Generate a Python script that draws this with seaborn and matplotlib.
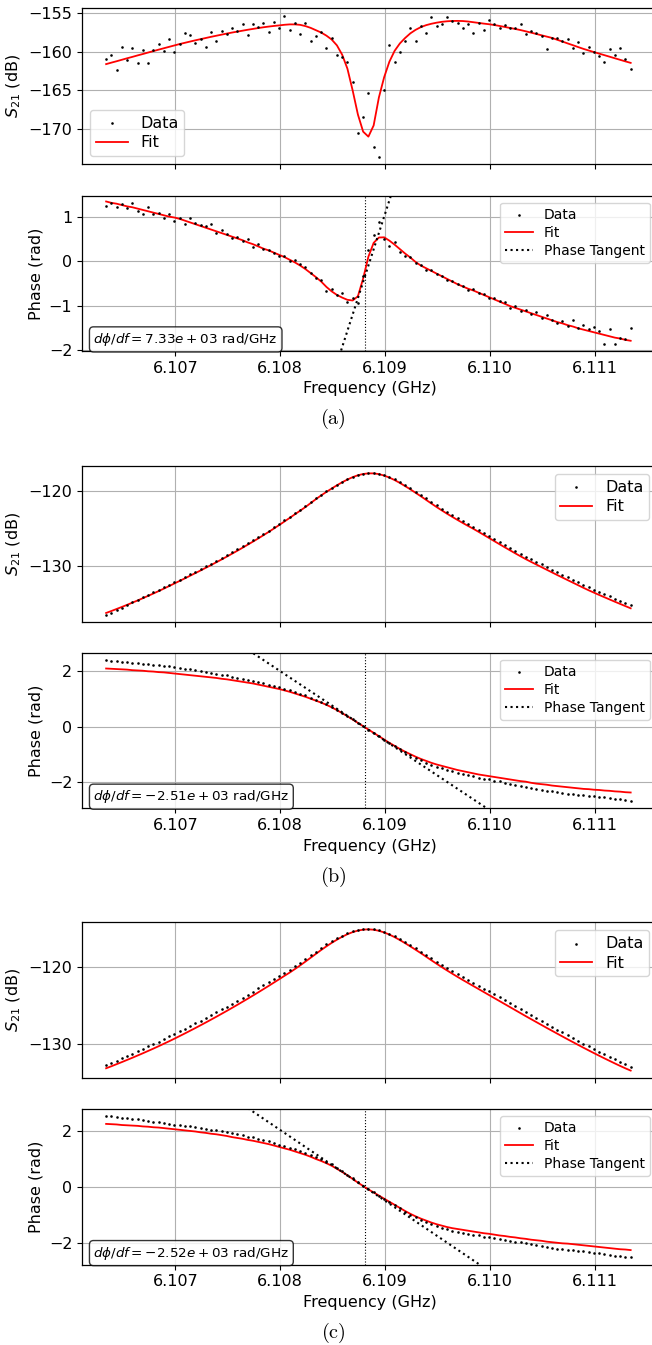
import numpy as np
import matplotlib
matplotlib.use("Agg")
import matplotlib.pyplot as plt
import seaborn as sns
from matplotlib.ticker import FixedLocator, FormatStrFormatter

# ---------------- data ----------------
FREQ_START = 6.10634   # GHz
FREQ_STOP = 6.11134    # GHz
N_POINTS = 101
F0 = 6.10881           # resonance marker (GHz)
freq = np.linspace(FREQ_START, FREQ_STOP, N_POINTS)

X_TICKS = [6.107, 6.108, 6.109, 6.110, 6.111]

# ---- (a) ----
A_S21_DATA = [-161.0, -160.5, -162.4, -159.4, -161.1, -159.5, -161.5, -159.8, -161.5, -159.8,
              -159.0, -159.9, -158.4, -160.1, -159.0, -157.6, -157.9, -158.9, -158.4, -159.4,
              -157.5, -158.7, -157.4, -157.7, -157.0, -157.3, -156.5, -157.9, -156.5, -156.8,
              -156.3, -157.5, -156.2, -156.9, -155.4, -157.2, -156.3, -157.8, -156.3, -158.6,
              -158.0, -157.5, -159.5, -158.2, -160.4, -160.7, -161.4, -163.9, -170.5, -168.4,
              -165.3, -172.3, -173.5, -164.9, -159.1, -161.3, -160.0, -158.6, -157.0, -158.6,
              -156.7, -157.6, -155.6, -156.7, -156.4, -155.6, -156.0, -156.3, -156.9, -156.5,
              -157.6, -156.3, -157.2, -155.9, -156.5, -157.0, -156.6, -156.9, -157.0, -156.5,
              -157.7, -157.3, -157.6, -158.0, -159.7, -158.3, -158.2, -158.7, -158.4, -159.6,
              -158.8, -160.2, -159.4, -160.0, -160.6, -161.4, -159.7, -160.5, -159.6, -160.9,
              -162.3]
A_S21_FIT = [-161.61, -161.42, -161.24, -161.05, -160.86, -160.68, -160.49, -160.31, -160.12, -159.94,
             -159.75, -159.57, -159.39, -159.21, -159.03, -158.87, -158.71, -158.55, -158.40, -158.25,
             -158.10, -157.96, -157.82, -157.68, -157.55, -157.43, -157.31, -157.19, -157.08, -156.97,
             -156.87, -156.78, -156.70, -156.63, -156.55, -156.50, -156.50, -156.56, -156.72, -156.95,
             -157.25, -157.55, -157.95, -158.45, -159.20, -160.40, -162.20, -165.00, -168.10, -170.30,
             -170.94, -169.50, -165.90, -163.30, -161.30, -159.90, -158.95, -158.25, -157.65, -157.20,
             -156.85, -156.60, -156.42, -156.28, -156.17, -156.10, -156.06, -156.05, -156.07, -156.13,
             -156.22, -156.31, -156.40, -156.48, -156.58, -156.70, -156.83, -156.96, -157.09, -157.23,
             -157.39, -157.56, -157.73, -157.90, -158.07, -158.24, -158.48, -158.71, -158.95, -159.18,
             -159.42, -159.65, -159.86, -160.06, -160.26, -160.46, -160.66, -160.86, -161.06, -161.26,
             -161.45]
A_PHASE_DATA = [1.24, 1.30, 1.22, 1.28, 1.19, 1.30, 1.13, 1.05, 1.21, 1.06,
                1.09, 0.97, 1.06, 0.90, 0.96, 0.83, 0.98, 0.86, 0.82, 0.79,
                0.84, 0.64, 0.69, 0.62, 0.51, 0.55, 0.45, 0.49, 0.32, 0.38,
                0.28, 0.24, 0.19, 0.12, 0.11, 0.01, 0.02, -0.07, -0.13, -0.26,
                -0.38, -0.42, -0.67, -0.62, -0.77, -0.72, -0.91, -0.84, -0.95, -0.33,
                0.25, 0.58, 0.88, 0.49, 0.33, 0.44, 0.20, 0.12, 0.10, -0.04,
                -0.08, -0.19, -0.20, -0.30, -0.33, -0.43, -0.45, -0.51, -0.55, -0.65,
                -0.63, -0.72, -0.74, -0.84, -0.83, -0.89, -0.93, -1.06, -1.01, -1.12,
                -1.10, -1.19, -1.15, -1.27, -1.20, -1.32, -1.38, -1.35, -1.46, -1.33,
                -1.50, -1.44, -1.52, -1.47, -1.58, -1.86, -1.52, -1.87, -1.72, -1.76,
                -1.50]
A_PHASE_FIT = [1.34, 1.31, 1.29, 1.26, 1.23, 1.21, 1.18, 1.15, 1.12, 1.09,
               1.06, 1.03, 1.00, 0.98, 0.95, 0.91, 0.87, 0.83, 0.79, 0.75,
               0.71, 0.67, 0.63, 0.59, 0.55, 0.51, 0.47, 0.42, 0.38, 0.33,
               0.28, 0.24, 0.19, 0.14, 0.09, 0.03, -0.03, -0.10, -0.18, -0.27,
               -0.36, -0.46, -0.58, -0.68, -0.76, -0.82, -0.87, -0.885, -0.79, -0.39,
               0.10, 0.41, 0.53, 0.535, 0.46, 0.37, 0.27, 0.17, 0.08, -0.02,
               -0.10, -0.16, -0.22, -0.28, -0.34, -0.40, -0.46, -0.52, -0.57, -0.62,
               -0.66, -0.71, -0.76, -0.81, -0.86, -0.91, -0.96, -1.01, -1.05, -1.09,
               -1.13, -1.17, -1.21, -1.25, -1.29, -1.33, -1.37, -1.40, -1.44, -1.47,
               -1.51, -1.54, -1.57, -1.60, -1.63, -1.66, -1.69, -1.72, -1.74, -1.77,
               -1.79]
A_SLOPE = 7.33e3      # rad/GHz
A_PHI0 = -0.32

# ---- (b) ----
B_S21_DATA = [-136.50, -136.24, -135.85, -135.50, -135.14, -134.78, -134.46, -134.12, -133.78, -133.47,
              -133.14, -132.80, -132.47, -132.12, -131.79, -131.44, -131.08, -130.74, -130.38, -130.02,
              -129.66, -129.28, -128.92, -128.53, -128.14, -127.76, -127.35, -126.95, -126.54, -126.12,
              -125.70, -125.25, -124.81, -124.35, -123.88, -123.41, -122.94, -122.46, -121.99, -121.46,
              -120.95, -120.48, -120.03, -119.59, -119.17, -118.78, -118.43, -118.12, -117.88, -117.71,
              -117.63, -117.63, -117.72, -117.90, -118.15, -118.45, -118.81, -119.22, -119.64, -120.08,
              -120.53, -120.99, -121.45, -121.91, -122.34, -122.77, -123.18, -123.58, -123.97, -124.37,
              -124.74, -125.13, -125.52, -125.92, -126.33, -126.74, -127.15, -127.55, -127.94, -128.33,
              -128.71, -129.07, -129.41, -129.76, -130.10, -130.44, -130.79, -131.13, -131.46, -131.79,
              -132.13, -132.46, -132.79, -133.10, -133.41, -133.70, -133.99, -134.29, -134.58, -134.86,
              -135.14]
B_S21_FIT = [-136.20, -135.94, -135.67, -135.40, -135.12, -134.83, -134.54, -134.24, -133.93, -133.62,
             -133.30, -132.97, -132.63, -132.29, -131.95, -131.61, -131.26, -130.91, -130.56, -130.20,
             -129.84, -129.47, -129.10, -128.72, -128.33, -127.94, -127.54, -127.13, -126.72, -126.30,
             -125.87, -125.43, -124.98, -124.52, -124.05, -123.57, -123.09, -122.61, -122.13, -121.60,
             -121.08, -120.58, -120.12, -119.67, -119.24, -118.84, -118.48, -118.16, -117.91, -117.74,
             -117.66, -117.66, -117.76, -117.95, -118.22, -118.55, -118.93, -119.35, -119.78, -120.24,
             -120.70, -121.18, -121.66, -122.13, -122.58, -123.02, -123.44, -123.85, -124.25, -124.64,
             -125.02, -125.42, -125.83, -126.24, -126.66, -127.07, -127.48, -127.88, -128.28, -128.67,
             -129.05, -129.41, -129.76, -130.11, -130.46, -130.81, -131.16, -131.50, -131.84, -132.18,
             -132.52, -132.86, -133.19, -133.50, -133.81, -134.11, -134.41, -134.71, -135.00, -135.29,
             -135.58]
B_PHASE_DATA = [2.40, 2.38, 2.37, 2.35, 2.34, 2.31, 2.30, 2.28, 2.26, 2.24,
                2.22, 2.20, 2.18, 2.16, 2.13, 2.10, 2.07, 2.04, 2.01, 1.98,
                1.95, 1.92, 1.88, 1.85, 1.81, 1.77, 1.73, 1.69, 1.65, 1.61,
                1.56, 1.52, 1.48, 1.43, 1.37, 1.32, 1.26, 1.19, 1.13, 1.05,
                0.98, 0.90, 0.82, 0.72, 0.62, 0.50, 0.39, 0.27, 0.14, 0.02,
                -0.10, -0.22, -0.34, -0.46, -0.58, -0.70, -0.82, -0.92, -1.02, -1.12,
                -1.21, -1.29, -1.37, -1.44, -1.50, -1.55, -1.61, -1.66, -1.71, -1.75,
                -1.79, -1.83, -1.87, -1.90, -1.94, -1.97, -2.01, -2.05, -2.09, -2.13,
                -2.16, -2.20, -2.24, -2.27, -2.30, -2.33, -2.36, -2.38, -2.41, -2.43,
                -2.45, -2.47, -2.49, -2.51, -2.53, -2.55, -2.57, -2.60, -2.62, -2.65,
                -2.67]
B_PHASE_FIT = [2.10, 2.09, 2.08, 2.07, 2.06, 2.04, 2.03, 2.02, 2.00, 1.99,
               1.97, 1.96, 1.94, 1.92, 1.90, 1.88, 1.86, 1.84, 1.82, 1.80,
               1.78, 1.76, 1.73, 1.71, 1.68, 1.65, 1.62, 1.59, 1.56, 1.52,
               1.48, 1.44, 1.40, 1.36, 1.31, 1.26, 1.20, 1.14, 1.08, 1.01,
               0.94, 0.87, 0.79, 0.70, 0.60, 0.49, 0.38, 0.26, 0.14, 0.02,
               -0.10, -0.22, -0.34, -0.46, -0.58, -0.69, -0.80, -0.90, -0.99, -1.08,
               -1.16, -1.23, -1.30, -1.36, -1.41, -1.46, -1.51, -1.56, -1.60, -1.64,
               -1.68, -1.72, -1.75, -1.78, -1.81, -1.84, -1.87, -1.90, -1.93, -1.96,
               -1.98, -2.02, -2.05, -2.07, -2.09, -2.12, -2.14, -2.16, -2.18, -2.20,
               -2.22, -2.24, -2.25, -2.27, -2.28, -2.30, -2.31, -2.33, -2.34, -2.36,
               -2.37]
B_SLOPE = -2.51e3
B_PHI0 = -0.03

# ---- (c) ----
C_S21_DATA = [-132.68, -132.39, -132.10, -131.81, -131.51, -131.21, -130.90, -130.59, -130.27, -129.96,
              -129.64, -129.31, -128.98, -128.64, -128.30, -127.96, -127.62, -127.28, -126.93, -126.58,
              -126.22, -125.86, -125.49, -125.12, -124.74, -124.36, -123.97, -123.58, -123.18, -122.78,
              -122.37, -121.97, -121.56, -121.15, -120.73, -120.33, -119.89, -119.44, -118.97, -118.49,
              -118.01, -117.53, -117.09, -116.67, -116.29, -115.94, -115.64, -115.40, -115.22, -115.12,
              -115.09, -115.14, -115.27, -115.47, -115.73, -116.04, -116.40, -116.78, -117.18, -117.59,
              -118.01, -118.45, -118.89, -119.32, -119.74, -120.15, -120.55, -120.94, -121.32, -121.69,
              -122.06, -122.43, -122.80, -123.17, -123.55, -123.93, -124.31, -124.69, -125.07, -125.45,
              -125.84, -126.22, -126.60, -126.98, -127.36, -127.73, -128.10, -128.47, -128.84, -129.20,
              -129.56, -129.92, -130.27, -130.62, -130.96, -131.30, -131.63, -131.96, -132.28, -132.59,
              -132.88]
C_S21_FIT = [-133.10, -132.84, -132.57, -132.30, -132.02, -131.74, -131.45, -131.16, -130.86, -130.56,
             -130.25, -129.93, -129.61, -129.28, -128.94, -128.60, -128.25, -127.90, -127.54, -127.18,
             -126.81, -126.44, -126.06, -125.68, -125.29, -124.90, -124.50, -124.10, -123.69, -123.28,
             -122.86, -122.44, -122.01, -121.58, -121.14, -120.72, -120.26, -119.79, -119.30, -118.80,
             -118.30, -117.80, -117.33, -116.88, -116.47, -116.09, -115.76, -115.49, -115.29, -115.17,
             -115.13, -115.18, -115.32, -115.53, -115.81, -116.14, -116.52, -116.92, -117.34, -117.77,
             -118.21, -118.67, -119.13, -119.58, -120.02, -120.45, -120.87, -121.28, -121.68, -122.07,
             -122.46, -122.85, -123.24, -123.63, -124.02, -124.41, -124.80, -125.19, -125.58, -125.97,
             -126.36, -126.74, -127.12, -127.50, -127.88, -128.25, -128.62, -128.99, -129.36, -129.72,
             -130.08, -130.44, -130.79, -131.14, -131.48, -131.82, -132.15, -132.48, -132.80, -133.11,
             -133.40]
C_PHASE_DATA = [2.54, 2.52, 2.50, 2.47, 2.45, 2.43, 2.41, 2.38, 2.36, 2.33,
                2.31, 2.28, 2.25, 2.22, 2.20, 2.18, 2.16, 2.14, 2.11, 2.08,
                2.05, 2.03, 2.00, 1.97, 1.92, 1.89, 1.85, 1.80, 1.77, 1.72,
                1.67, 1.63, 1.57, 1.51, 1.46, 1.41, 1.34, 1.28, 1.21, 1.14,
                1.06, 0.99, 0.90, 0.81, 0.69, 0.57, 0.44, 0.31, 0.17, 0.05,
                -0.08, -0.19, -0.30, -0.42, -0.53, -0.65, -0.76, -0.87, -0.98, -1.08,
                -1.16, -1.24, -1.32, -1.39, -1.45, -1.50, -1.55, -1.59, -1.62, -1.66,
                -1.69, -1.72, -1.76, -1.78, -1.82, -1.85, -1.88, -1.91, -1.94, -1.97,
                -2.00, -2.04, -2.07, -2.10, -2.14, -2.16, -2.19, -2.21, -2.23, -2.25,
                -2.27, -2.29, -2.31, -2.33, -2.36, -2.38, -2.41, -2.44, -2.46, -2.48,
                -2.50]
C_PHASE_FIT = [2.25, 2.24, 2.23, 2.21, 2.20, 2.19, 2.18, 2.16, 2.15, 2.13,
               2.12, 2.10, 2.08, 2.06, 2.04, 2.02, 2.00, 1.98, 1.95, 1.93,
               1.90, 1.88, 1.85, 1.82, 1.78, 1.75, 1.72, 1.68, 1.65, 1.61,
               1.57, 1.53, 1.48, 1.43, 1.38, 1.33, 1.27, 1.21, 1.15, 1.08,
               1.00, 0.93, 0.85, 0.76, 0.65, 0.54, 0.42, 0.29, 0.16, 0.04,
               -0.08, -0.19, -0.30, -0.41, -0.52, -0.63, -0.74, -0.85, -0.95, -1.04,
               -1.12, -1.19, -1.26, -1.32, -1.37, -1.42, -1.46, -1.49, -1.52, -1.55,
               -1.58, -1.61, -1.64, -1.66, -1.69, -1.72, -1.74, -1.77, -1.79, -1.82,
               -1.84, -1.87, -1.89, -1.91, -1.94, -1.96, -1.98, -2.00, -2.01, -2.03,
               -2.05, -2.07, -2.09, -2.11, -2.13, -2.15, -2.17, -2.19, -2.21, -2.22,
               -2.24]
C_SLOPE = -2.52e3
C_PHI0 = -0.01

# axis ranges / ticks
S21_YLIMS = [(-174.46, -154.43), (-137.36, -116.68), (-134.32, -114.22)]
S21_YTICKS = [[-170, -165, -160, -155], [-130, -120], [-130, -120]]
PH_YLIMS = [(-2.02, 1.47), (-2.94, 2.67), (-2.76, 2.78)]
PH_YTICKS = [[-2, -1, 0, 1], [-2, 0, 2], [-2, 0, 2]]
S21_LEGEND_LOC = ["lower left", "upper right", "upper right"]
CAPTIONS = ["(a)", "(b)", "(c)"]

# ---------------- layout (pixels of a 652x1345 canvas) ----------------
W, H = 652, 1345
AX_LEFT, AX_WIDTH = 82, 574.9
S21_EDGES = [(8.3, 164.0), (466.0, 621.7), (922.3, 1077.7)]
PH_EDGES = [(195.7, 351.0), (652.7, 808.3), (1109.0, 1264.7)]
CAPTION_Y = [419, 877, 1333]
XLIM = (6.10611, 6.11159)

plt.rcParams["font.family"] = ["DejaVu Sans"]
plt.rcParams["axes.linewidth"] = 0.9

fig = plt.figure(figsize=(W / 100, H / 100), dpi=100)

def px_axes(top, bottom):
    return fig.add_axes([AX_LEFT / W, 1 - bottom / H, AX_WIDTH / W, (bottom - top) / H])

panels = [
    (A_S21_DATA, A_S21_FIT, A_PHASE_DATA, A_PHASE_FIT, A_SLOPE, A_PHI0),
    (B_S21_DATA, B_S21_FIT, B_PHASE_DATA, B_PHASE_FIT, B_SLOPE, B_PHI0),
    (C_S21_DATA, C_S21_FIT, C_PHASE_DATA, C_PHASE_FIT, C_SLOPE, C_PHI0),
]

FS = 11.5
for k, (s_dat, s_fit, p_dat, p_fit, slope, phi0) in enumerate(panels):
    # ---- magnitude ----
    ax = px_axes(*S21_EDGES[k])
    sns.scatterplot(x=freq, y=np.array(s_dat), ax=ax, color="k", marker=".", s=14,
                    linewidth=0, label="Data", zorder=3)
    sns.lineplot(x=freq, y=np.array(s_fit), ax=ax, color="red", linewidth=1.3,
                 label="Fit", zorder=2)
    ax.set_xlim(*XLIM)
    ax.set_ylim(*S21_YLIMS[k])
    ax.xaxis.set_major_locator(FixedLocator(X_TICKS))
    ax.set_yticks(S21_YTICKS[k])
    ax.tick_params(labelsize=FS, labelbottom=False)
    ax.grid(True, color="#b0b0b0", linewidth=0.8)
    ax.set_axisbelow(True)
    ax.set_xlabel("")
    ax.set_ylabel(r"$S_{21}$ (dB)", fontsize=FS)
    ax.legend(loc=S21_LEGEND_LOC[k], fontsize=FS, labelspacing=0.3, borderpad=0.35)

    # ---- phase ----
    ax2 = px_axes(*PH_EDGES[k])
    tangent = phi0 + slope * (freq - F0)
    sns.scatterplot(x=freq, y=np.array(p_dat), ax=ax2, color="k", marker=".", s=14,
                    linewidth=0, label="Data", zorder=3)
    sns.lineplot(x=freq, y=np.array(p_fit), ax=ax2, color="red", linewidth=1.3,
                 label="Fit", zorder=2)
    sns.lineplot(x=freq, y=tangent, ax=ax2, color="k", linestyle=":", linewidth=1.5,
                 label="Phase Tangent", zorder=2)
    ax2.axvline(F0, color="k", linestyle=":", linewidth=0.8, zorder=1)
    ax2.set_xlim(*XLIM)
    ax2.set_ylim(*PH_YLIMS[k])
    ax2.xaxis.set_major_locator(FixedLocator(X_TICKS))
    ax2.xaxis.set_major_formatter(FormatStrFormatter("%.3f"))
    ax2.set_yticks(PH_YTICKS[k])
    ax2.tick_params(labelsize=FS)
    ax2.grid(True, color="#b0b0b0", linewidth=0.8)
    ax2.set_axisbelow(True)
    ax2.set_xlabel("Frequency (GHz)", fontsize=FS)
    ax2.set_ylabel("Phase (rad)", fontsize=FS)
    ax2.legend(loc="upper right", fontsize=10, labelspacing=0.3, borderpad=0.35)
    ax2.text(0.02, 0.02, r"$d\phi/df = %s$ rad/GHz" % ("%.2e" % slope),
             transform=ax2.transAxes, fontsize=9.7, ha="left", va="bottom",
             bbox=dict(boxstyle="round", facecolor="white", alpha=0.8), zorder=5)

    fig.text(333 / W, 1 - CAPTION_Y[k] / H, r"$\mathrm{%s}$" % CAPTIONS[k],
             ha="center", va="center", fontsize=14.5, math_fontfamily="cm")

fig.savefig("out.png", dpi=100)
